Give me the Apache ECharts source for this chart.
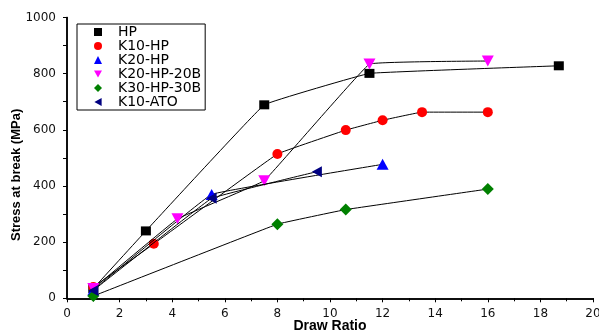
<!DOCTYPE html>
<html><head><meta charset="utf-8">
<script src="https://cdn.jsdelivr.net/npm/echarts@6/dist/echarts.min.js"></script>
<style>html,body{margin:0;padding:0;background:#fff}#c{width:599px;height:333px}</style>
</head><body><div id="c"></div>
<script>
const seriesNames = ['HP','K10-HP','K20-HP','K20-HP-20B','K30-HP-30B','K10-ATO'];
const hpX = [1, 3, 7.5, 11.5, 18.7];
const hpY = [35, 240, 689, 801, 828];
const k10hpX = [1, 3.3, 8, 10.6, 12, 13.5, 16];
const k10hpY = [40, 194, 514, 599, 634, 663, 663];
const k20hpX = [1, 5.5, 12];
const k20hpY = [30, 370, 477];
const k20hp20bX = [1, 4.2, 7.5, 11.5, 16];
const k20hp20bY = [35, 283, 419, 834, 845];
const k30hp30bX = [1, 8, 10.6, 16];
const k30hp30bY = [8, 264, 316, 389];
const k10atoX = [1, 5.5, 9.5];
const k10atoY = [28, 356, 451];
const xTicks = [0,2,4,6,8,10,12,14,16,18,20];
const yTicks = [0,200,400,600,800,1000];

const colors = ['#000000','#ff0000','#0000ff','#ff00ff','#008000','#000080'];
const symbols = ['rect','circle','triangle','path://M0,0 L10,0 L5,9 Z','diamond','path://M9,0 L9,10 L0,5 Z'];
const sizes = [[10,9],10,[12,11],[12,11],12,[10,11]];
const xs = [hpX,k10hpX,k20hpX,k20hp20bX,k30hp30bX,k10atoX];
const ys = [hpY,k10hpY,k20hpY,k20hp20bY,k30hp30bY,k10atoY];

const series = seriesNames.map((n,i)=>({
  name:n, type:'line', xAxisIndex:0, yAxisIndex:0,
  data: xs[i].map((x,j)=>[x, ys[i][j]]),
  smooth:0.05,
  symbol: symbols[i], symbolSize: sizes[i],
  lineStyle:{color:'#000', width:1},
  itemStyle:{color:colors[i]},
  z: 3+i
}));

const chart = echarts.init(document.getElementById('c'));
const font = 'DejaVu Sans, Liberation Sans, Arial, sans-serif';
const fontB = 'Liberation Sans, Arial, sans-serif';
chart.setOption({
  animation:false,
  grid:{left:67, right:6, top:17.5, bottom:34.7, containLabel:false, outerBoundsMode:'none'},
  legend:{
    orient:'vertical', left:77, top:24,
    data: seriesNames.map((n,i)=>({name:n, icon:symbols[i], itemStyle:{color:colors[i]}})),
    itemWidth:8, itemHeight:8, itemGap:0,
    padding:[1,4,1,17],
    borderColor:'#000', borderWidth:1,
    textStyle:{fontFamily:font, fontSize:14, color:'#000', lineHeight:13.8, padding:[0,0,0,11]}
  },
  xAxis:[{
    type:'value', min:0, max:20, interval:2, position:'bottom',
    name:'Draw Ratio', nameLocation:'middle', nameGap:21, nameMoveOverlap:false,
    nameTextStyle:{fontFamily:fontB, fontSize:14, fontWeight:'bold', color:'#000'},
    axisLine:{lineStyle:{color:'#000', width:1.5}},
    axisTick:{show:true, length:4, inside:false, lineStyle:{color:'#000'}},
    minorTick:{show:true, splitNumber:2, length:2, lineStyle:{color:'#000'}},
    axisLabel:{fontFamily:font, fontSize:12, color:'#111', margin:10, formatter:v=>String(v)},
    splitLine:{show:false}
  },{
    type:'value', min:0, max:20, interval:1, position:'top',
    axisLine:{lineStyle:{color:'#000', width:1.5}},
    axisTick:{show:true, inside:true, length:3, lineStyle:{color:'#000'}},
    axisLabel:{show:false}, splitLine:{show:false}
  }],
  yAxis:[{
    type:'value', min:0, max:1000, interval:200, position:'left',
    name:'Stress at break (MPa)', nameLocation:'middle', nameGap:44, nameMoveOverlap:false,
    nameTextStyle:{fontFamily:fontB, fontSize:13, fontWeight:'bold', color:'#000', padding:[0,34,0,0]},
    axisLine:{show:true, lineStyle:{color:'#000', width:1.5}},
    axisTick:{show:true, length:4, lineStyle:{color:'#000'}},
    minorTick:{show:true, splitNumber:2, length:2, lineStyle:{color:'#000'}},
    axisLabel:{fontFamily:font, fontSize:12, color:'#111', margin:11, formatter:v=>String(v)},
    splitLine:{show:false}
  },{
    type:'value', min:0, max:1000, interval:100, position:'right',
    axisLine:{show:true, lineStyle:{color:'#000', width:1.5}},
    axisTick:{show:true, inside:true, length:4, lineStyle:{color:'#000'}},
    axisLabel:{show:false}, splitLine:{show:false}
  }],
  series: series
});
</script></body></html>
